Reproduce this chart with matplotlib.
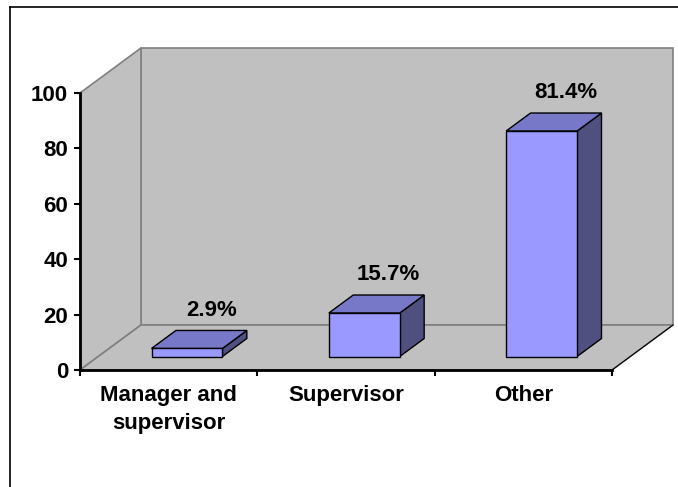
import matplotlib
matplotlib.use("Agg")
import matplotlib.pyplot as plt
from matplotlib.patches import Polygon
from matplotlib.lines import Line2D

plt.rcParams['font.family'] = ['Liberation Sans', 'DejaVu Sans']
plt.rcParams['font.weight'] = 'bold'

categories = ["Manager and\nsupervisor", "Supervisor", "Other"]
values = [2.9, 15.7, 81.4]
labels = ["2.9%", "15.7%", "81.4%"]
yticks = [0, 20, 40, 60, 80, 100]

fig = plt.figure(figsize=(6.78, 4.87), dpi=100)
ax = fig.add_axes([80/678, 117/487, 532/678, 277/487])
ax.set_xlim(0, 3)
ax.set_ylim(0, 100)
ax.patch.set_visible(False)

# depth of the 3d box, in data units
dx = 61 / (532/3)
dy = 45 / 2.77
wall = "#C0C0C0"
wall_edge = "#808080"

# walls and floor
ax.add_patch(Polygon([(dx, dy), (3+dx, dy), (3+dx, 100+dy), (dx, 100+dy)],
                     closed=True, fc=wall, ec=wall_edge, lw=1.2, clip_on=False, zorder=0))
ax.add_patch(Polygon([(0, 0), (0, 100), (dx, 100+dy), (dx, dy)],
                     closed=True, fc=wall, ec=wall_edge, lw=1.2, clip_on=False, zorder=0))
ax.add_patch(Polygon([(0, 0), (3, 0), (3+dx, dy), (dx, dy)],
                     closed=True, fc=wall, ec=wall_edge, lw=1.2, clip_on=False, zorder=0))
ax.add_line(Line2D([3, 3+dx], [0, dy], color="black", lw=0.8, clip_on=False, zorder=0.5))

# bars
w = 0.4
f0, f1 = 0.3, 0.7
bdx = (f1 - f0) * dx
bdy = (f1 - f0) * dy
for i, v in enumerate(values):
    x0 = i + 0.5 - w/2 + f0*dx
    x1 = x0 + w
    y0 = f0*dy
    y1 = v + f0*dy
    ax.add_patch(Polygon([(x1, y0), (x1, y1), (x1+bdx, y1+bdy), (x1+bdx, y0+bdy)],
                         closed=True, fc="#4F4F80", ec="black", lw=1, clip_on=False, zorder=2))
    ax.add_patch(Polygon([(x0, y1), (x1, y1), (x1+bdx, y1+bdy), (x0+bdx, y1+bdy)],
                         closed=True, fc="#7878C8", ec="black", lw=1, clip_on=False, zorder=2))
    ax.add_patch(Polygon([(x0, y0), (x1, y0), (x1, y1), (x0, y1)],
                         closed=True, fc="#9999FF", ec="black", lw=1, clip_on=False, zorder=2))
    ax.annotate(labels[i], (x0 + w/2 + bdx, y1 + bdy), xytext=(0, 14.5),
                textcoords="offset points", ha="center", va="center",
                fontsize=16, fontweight="bold", annotation_clip=False)

for s in ["top", "right"]:
    ax.spines[s].set_visible(False)
for s in ["left", "bottom"]:
    ax.spines[s].set_linewidth(2)
    ax.spines[s].set_zorder(3)

ax.set_yticks(yticks)
ax.set_yticklabels([str(t) for t in yticks], fontsize=16, fontweight="bold")
ax.tick_params(axis="y", length=4.5, width=1.5, pad=4)
ax.set_xticks([0, 1, 2, 3])
ax.set_xticklabels([])
ax.tick_params(axis="x", which="major", length=4.5, width=1.5)
ax.set_xticks([0.5, 1.5, 2.5], minor=True)
ax.set_xticklabels(categories, minor=True, fontsize=16, fontweight="bold", linespacing=1.45)
ax.tick_params(axis="x", which="minor", length=0, pad=11)

# outer frame
fig.add_artist(Line2D([10/678, 10/678], [0, 1 - 7/487], color="black", lw=1.2))
fig.add_artist(Line2D([10/678, 1], [1 - 7/487, 1 - 7/487], color="black", lw=1.2))

fig.savefig("out.png", dpi=100)
